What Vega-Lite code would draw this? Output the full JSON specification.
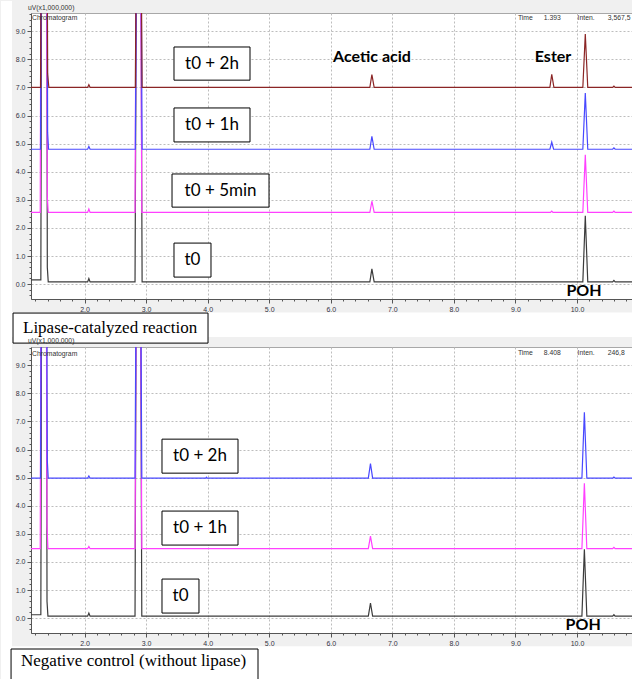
{
  "$schema": "https://vega.github.io/schema/vega-lite/v6.json",
  "background": "#f0f0f0",
  "padding": {"left": 0, "top": 0, "right": 0, "bottom": 0},
  "spacing": 48,
  "bounds": "flush",
  "resolve": {"scale": {"color": "independent"}},
  "config": {
    "view": {"fill": "white", "stroke": "#a8a8a8", "strokeWidth": 1},
    "axis": {"labelFont": "Liberation Sans", "labelFontSize": 7, "labelColor": "#333344", "domainColor": "#555555", "tickColor": "#555555", "labelPadding": 2, "grid": true, "gridColor": "#bdbdbd", "gridDash": [2, 2], "gridWidth": 1, "title": null,
      "tickSize": {"condition": {"test": "abs(datum.value - round(datum.value)) > 0.01", "value": 2}, "value": 4},
      "gridOpacity": {"condition": {"test": "abs(datum.value - round(datum.value)) > 0.01", "value": 0}, "value": 1},
      "labelExpr": "abs(datum.value - round(datum.value)) > 0.01 ? '' : format(datum.value, '.1f')"}
  },
  "datasets": {
    "topTraces": [
      {"s":"t0","t":1.13,"v":0.15},{"s":"t0","t":1.29,"v":0.15},{"s":"t0","t":1.305,"v":15},{"s":"t0","t":1.385,"v":15},{"s":"t0","t":1.395,"v":0.6},{"s":"t0","t":1.41,"v":0.08},{"s":"t0","t":2.05,"v":0.08},{"s":"t0","t":2.07,"v":0.2},{"s":"t0","t":2.09,"v":0.08},{"s":"t0","t":2.82,"v":0.08},{"s":"t0","t":2.85,"v":15},{"s":"t0","t":2.91,"v":15},{"s":"t0","t":2.935,"v":0.08},{"s":"t0","t":6.635,"v":0.08},{"s":"t0","t":6.668,"v":0.54},{"s":"t0","t":6.705,"v":0.08},{"s":"t0","t":10.095,"v":0.08},{"s":"t0","t":10.135,"v":2.43},{"s":"t0","t":10.175,"v":0.08},{"s":"t0","t":10.58,"v":0.08},{"s":"t0","t":10.6,"v":0.13},{"s":"t0","t":10.62,"v":0.08},{"s":"t0","t":10.91,"v":0.08},
      {"s":"t0 + 5min","t":1.13,"v":2.55},{"s":"t0 + 5min","t":1.28,"v":2.55},{"s":"t0 + 5min","t":1.295,"v":15},{"s":"t0 + 5min","t":1.38,"v":15},{"s":"t0 + 5min","t":1.395,"v":3.1},{"s":"t0 + 5min","t":1.41,"v":2.55},{"s":"t0 + 5min","t":2.05,"v":2.55},{"s":"t0 + 5min","t":2.07,"v":2.67},{"s":"t0 + 5min","t":2.09,"v":2.55},{"s":"t0 + 5min","t":2.82,"v":2.55},{"s":"t0 + 5min","t":2.845,"v":15},{"s":"t0 + 5min","t":2.905,"v":15},{"s":"t0 + 5min","t":2.93,"v":2.55},{"s":"t0 + 5min","t":6.635,"v":2.55},{"s":"t0 + 5min","t":6.668,"v":2.95},{"s":"t0 + 5min","t":6.705,"v":2.55},{"s":"t0 + 5min","t":9.57,"v":2.55},{"s":"t0 + 5min","t":9.59,"v":2.6},{"s":"t0 + 5min","t":9.61,"v":2.55},{"s":"t0 + 5min","t":10.095,"v":2.55},{"s":"t0 + 5min","t":10.135,"v":4.6},{"s":"t0 + 5min","t":10.175,"v":2.55},{"s":"t0 + 5min","t":10.58,"v":2.55},{"s":"t0 + 5min","t":10.6,"v":2.6},{"s":"t0 + 5min","t":10.62,"v":2.55},{"s":"t0 + 5min","t":10.91,"v":2.55},
      {"s":"t0 + 1h","t":1.13,"v":4.8},{"s":"t0 + 1h","t":1.285,"v":4.8},{"s":"t0 + 1h","t":1.3,"v":15},{"s":"t0 + 1h","t":1.39,"v":15},{"s":"t0 + 1h","t":1.4,"v":5.4},{"s":"t0 + 1h","t":1.415,"v":4.8},{"s":"t0 + 1h","t":2.05,"v":4.8},{"s":"t0 + 1h","t":2.07,"v":4.9},{"s":"t0 + 1h","t":2.09,"v":4.8},{"s":"t0 + 1h","t":2.825,"v":4.8},{"s":"t0 + 1h","t":2.85,"v":15},{"s":"t0 + 1h","t":2.91,"v":15},{"s":"t0 + 1h","t":2.935,"v":4.8},{"s":"t0 + 1h","t":6.635,"v":4.8},{"s":"t0 + 1h","t":6.668,"v":5.26},{"s":"t0 + 1h","t":6.705,"v":4.8},{"s":"t0 + 1h","t":9.56,"v":4.8},{"s":"t0 + 1h","t":9.59,"v":5.05},{"s":"t0 + 1h","t":9.62,"v":4.8},{"s":"t0 + 1h","t":10.095,"v":4.8},{"s":"t0 + 1h","t":10.135,"v":6.8},{"s":"t0 + 1h","t":10.175,"v":4.8},{"s":"t0 + 1h","t":10.58,"v":4.8},{"s":"t0 + 1h","t":10.6,"v":4.85},{"s":"t0 + 1h","t":10.62,"v":4.8},{"s":"t0 + 1h","t":10.91,"v":4.8},
      {"s":"t0 + 2h","t":1.13,"v":7.0},{"s":"t0 + 2h","t":1.285,"v":7.0},{"s":"t0 + 2h","t":1.3,"v":15},{"s":"t0 + 2h","t":1.39,"v":15},{"s":"t0 + 2h","t":1.4,"v":7.5},{"s":"t0 + 2h","t":1.42,"v":7.0},{"s":"t0 + 2h","t":2.05,"v":7.0},{"s":"t0 + 2h","t":2.07,"v":7.1},{"s":"t0 + 2h","t":2.09,"v":7.0},{"s":"t0 + 2h","t":2.825,"v":7.0},{"s":"t0 + 2h","t":2.85,"v":15},{"s":"t0 + 2h","t":2.91,"v":15},{"s":"t0 + 2h","t":2.935,"v":7.0},{"s":"t0 + 2h","t":6.635,"v":7.0},{"s":"t0 + 2h","t":6.668,"v":7.46},{"s":"t0 + 2h","t":6.705,"v":7.0},{"s":"t0 + 2h","t":9.56,"v":7.0},{"s":"t0 + 2h","t":9.59,"v":7.47},{"s":"t0 + 2h","t":9.625,"v":7.0},{"s":"t0 + 2h","t":10.095,"v":7.0},{"s":"t0 + 2h","t":10.135,"v":8.9},{"s":"t0 + 2h","t":10.175,"v":7.0},{"s":"t0 + 2h","t":10.58,"v":7.0},{"s":"t0 + 2h","t":10.6,"v":7.05},{"s":"t0 + 2h","t":10.62,"v":7.0},{"s":"t0 + 2h","t":10.91,"v":7.0}
    ],
    "bottomTraces": [
      {"s":"t0","t":1.13,"v":0.12},{"s":"t0","t":1.29,"v":0.12},{"s":"t0","t":1.305,"v":15},{"s":"t0","t":1.38,"v":15},{"s":"t0","t":1.39,"v":0.6},{"s":"t0","t":1.405,"v":0.07},{"s":"t0","t":2.05,"v":0.07},{"s":"t0","t":2.07,"v":0.18},{"s":"t0","t":2.09,"v":0.07},{"s":"t0","t":2.82,"v":0.07},{"s":"t0","t":2.845,"v":15},{"s":"t0","t":2.905,"v":15},{"s":"t0","t":2.93,"v":0.07},{"s":"t0","t":6.61,"v":0.07},{"s":"t0","t":6.645,"v":0.53},{"s":"t0","t":6.68,"v":0.07},{"s":"t0","t":10.08,"v":0.07},{"s":"t0","t":10.12,"v":2.45},{"s":"t0","t":10.16,"v":0.07},{"s":"t0","t":10.58,"v":0.07},{"s":"t0","t":10.6,"v":0.12},{"s":"t0","t":10.62,"v":0.07},{"s":"t0","t":10.91,"v":0.07},
      {"s":"t0 + 1h","t":1.13,"v":2.47},{"s":"t0 + 1h","t":1.28,"v":2.47},{"s":"t0 + 1h","t":1.295,"v":15},{"s":"t0 + 1h","t":1.375,"v":15},{"s":"t0 + 1h","t":1.39,"v":3.3},{"s":"t0 + 1h","t":1.405,"v":2.47},{"s":"t0 + 1h","t":2.05,"v":2.47},{"s":"t0 + 1h","t":2.07,"v":2.55},{"s":"t0 + 1h","t":2.09,"v":2.47},{"s":"t0 + 1h","t":2.82,"v":2.47},{"s":"t0 + 1h","t":2.845,"v":15},{"s":"t0 + 1h","t":2.905,"v":15},{"s":"t0 + 1h","t":2.93,"v":2.47},{"s":"t0 + 1h","t":6.61,"v":2.47},{"s":"t0 + 1h","t":6.645,"v":2.92},{"s":"t0 + 1h","t":6.68,"v":2.47},{"s":"t0 + 1h","t":10.08,"v":2.47},{"s":"t0 + 1h","t":10.12,"v":4.8},{"s":"t0 + 1h","t":10.16,"v":2.47},{"s":"t0 + 1h","t":10.58,"v":2.47},{"s":"t0 + 1h","t":10.6,"v":2.52},{"s":"t0 + 1h","t":10.62,"v":2.47},{"s":"t0 + 1h","t":10.91,"v":2.47},
      {"s":"t0 + 2h","t":1.13,"v":4.98},{"s":"t0 + 2h","t":1.285,"v":4.98},{"s":"t0 + 2h","t":1.3,"v":15},{"s":"t0 + 2h","t":1.385,"v":15},{"s":"t0 + 2h","t":1.39,"v":8.15},{"s":"t0 + 2h","t":1.395,"v":5.6},{"s":"t0 + 2h","t":1.41,"v":4.98},{"s":"t0 + 2h","t":2.05,"v":4.98},{"s":"t0 + 2h","t":2.07,"v":5.06},{"s":"t0 + 2h","t":2.09,"v":4.98},{"s":"t0 + 2h","t":2.82,"v":4.98},{"s":"t0 + 2h","t":2.845,"v":15},{"s":"t0 + 2h","t":2.905,"v":15},{"s":"t0 + 2h","t":2.93,"v":4.98},{"s":"t0 + 2h","t":3.97,"v":4.98},{"s":"t0 + 2h","t":3.98,"v":5.01},{"s":"t0 + 2h","t":3.99,"v":4.98},{"s":"t0 + 2h","t":6.61,"v":4.98},{"s":"t0 + 2h","t":6.645,"v":5.5},{"s":"t0 + 2h","t":6.68,"v":4.98},{"s":"t0 + 2h","t":10.08,"v":4.98},{"s":"t0 + 2h","t":10.12,"v":7.33},{"s":"t0 + 2h","t":10.16,"v":4.98},{"s":"t0 + 2h","t":10.58,"v":4.98},{"s":"t0 + 2h","t":10.6,"v":5.02},{"s":"t0 + 2h","t":10.62,"v":4.98},{"s":"t0 + 2h","t":10.91,"v":4.98}
    ],
    "topMargins": [
      {"t":0.6426,"t2":0.8213,"v":10.077,"v2":-1.884},
      {"t":0.6426,"t2":11.6,"v":-1.012,"v2":-1.884}
    ],
    "bottomMargins": [
      {"t":0.6426,"t2":0.8213,"v":10.006,"v2":-2.56},
      {"t":0.6426,"t2":11.6,"v":-1.0,"v2":-2.56}
    ],
    "topBoxes": [
      {"t":3.453,"t2":4.688,"v":8.44,"v2":7.26},
      {"t":3.453,"t2":4.688,"v":6.27,"v2":5.06},
      {"t":3.421,"t2":4.997,"v":3.92,"v2":2.74},
      {"t":3.453,"t2":4.054,"v":1.46,"v2":0.25}
    ],
    "topBoxLabels": [
      {"t":4.07,"v":7.85,"label":"t0 + 2h"},
      {"t":4.07,"v":5.66,"label":"t0 + 1h"},
      {"t":4.21,"v":3.33,"label":"t0 + 5min"},
      {"t":3.753,"v":0.86,"label":"t0"}
    ],
    "topCaptionBox": [{"t":0.838,"t2":4.006,"v":-1.03,"v2":-2.1}],
    "topCaption": [{"t":1.0,"v":-1.56,"label":"Lipase-catalyzed reaction"}],
    "topPeaks": [
      {"t":6.67,"v":8.08,"label":"Acetic acid"},
      {"t":9.611,"v":8.08,"label":"Ester"},
      {"t":10.114,"v":-0.25,"label":"POH"}
    ],
    "topSmall": [
      {"t":1.08,"v":9.83,"label":"uV(x1,000,000)"},
      {"t":1.146,"v":9.47,"label":"Chromatogram"},
      {"t":9.04,"v":9.47,"label":"Time"},
      {"t":9.46,"v":9.47,"label":"1.393"},
      {"t":10.01,"v":9.47,"label":"Inten."},
      {"t":10.5,"v":9.47,"label":"3,567,5"}
    ],
    "bottomBoxes": [
      {"t":3.258,"t2":4.493,"v":6.37,"v2":5.16},
      {"t":3.258,"t2":4.493,"v":3.81,"v2":2.6},
      {"t":3.258,"t2":3.859,"v":1.39,"v2":0.18}
    ],
    "bottomBoxLabels": [
      {"t":3.876,"v":5.76,"label":"t0 + 2h"},
      {"t":3.876,"v":3.2,"label":"t0 + 1h"},
      {"t":3.56,"v":0.78,"label":"t0"}
    ],
    "bottomCaptionBox": [{"t":0.806,"t2":4.818,"v":-1.1,"v2":-2.6}],
    "bottomCaption": [{"t":0.968,"v":-1.53,"label":"Negative control (without lipase)"}],
    "bottomPeaks": [
      {"t":10.1,"v":-0.25,"label":"POH"}
    ],
    "bottomSmall": [
      {"t":1.08,"v":9.86,"label":"uV(x1,000,000)"},
      {"t":1.146,"v":9.4,"label":"Chromatogram"},
      {"t":9.04,"v":9.44,"label":"Time"},
      {"t":9.46,"v":9.44,"label":"8.408"},
      {"t":10.01,"v":9.44,"label":"Inten."},
      {"t":10.5,"v":9.44,"label":"246,8"}
    ]
  },
  "vconcat": [
    {
      "width": 602,
      "height": 286,
      "encoding": {
        "x": {"field": "t", "type": "quantitative", "scale": {"domain": [1.13, 10.91], "nice": false, "zero": false}, "axis": {"values": [1.2,1.4,1.6,1.8,2,2.2,2.4,2.6,2.8,3,3.2,3.4,3.6,3.8,4,4.2,4.4,4.6,4.8,5,5.2,5.4,5.6,5.8,6,6.2,6.4,6.6,6.8,7,7.2,7.4,7.6,7.8,8,8.2,8.4,8.6,8.8,9,9.2,9.4,9.6,9.8,10,10.2,10.4,10.6,10.8], "labelFlush": false}},
        "y": {"field": "v", "type": "quantitative", "scale": {"domain": [-0.53, 9.65], "nice": false, "zero": false}, "axis": {"values": [-0.4,-0.2,0,0.2,0.4,0.6,0.8,1,1.2,1.4,1.6,1.8,2,2.2,2.4,2.6,2.8,3,3.2,3.4,3.6,3.8,4,4.2,4.4,4.6,4.8,5,5.2,5.4,5.6,5.8,6,6.2,6.4,6.6,6.8,7,7.2,7.4,7.6,7.8,8,8.2,8.4,8.6,8.8,9,9.2,9.4,9.6]}}
      },
      "layer": [
        {
          "data": {"name": "topMargins"},
          "mark": {"type": "rect", "fill": "white"},
          "encoding": {"x2": {"field": "t2"}, "y2": {"field": "v2"}}
        },
        {
          "data": {"name": "topTraces"},
          "mark": {"type": "line", "clip": true, "strokeWidth": 1.2},
          "encoding": {
            "color": {"field": "s", "type": "nominal", "scale": {"domain": ["t0", "t0 + 5min", "t0 + 1h", "t0 + 2h"], "range": ["#3c3c3c", "#ff40ff", "#4848ff", "#8b2525"]}, "legend": null}
          }
        },
        {
          "data": {"name": "topBoxes"},
          "mark": {"type": "rect", "fill": "white", "stroke": "black", "strokeWidth": 1},
          "encoding": {"x2": {"field": "t2"}, "y2": {"field": "v2"}}
        },
        {
          "data": {"name": "topBoxLabels"},
          "mark": {"type": "text", "font": "Lato", "fontSize": 17, "color": "black", "align": "center", "baseline": "middle"},
          "encoding": {"text": {"field": "label"}}
        },
        {
          "data": {"name": "topCaptionBox"},
          "mark": {"type": "rect", "fill": "white", "stroke": "black", "strokeWidth": 1},
          "encoding": {"x2": {"field": "t2"}, "y2": {"field": "v2"}}
        },
        {
          "data": {"name": "topCaption"},
          "mark": {"type": "text", "font": "Liberation Serif", "fontSize": 17, "color": "black", "align": "left", "baseline": "middle"},
          "encoding": {"text": {"field": "label"}}
        },
        {
          "data": {"name": "topPeaks"},
          "mark": {"type": "text", "font": "Lato", "fontSize": 16, "fontWeight": "bold", "color": "black", "align": "center", "baseline": "middle"},
          "encoding": {"text": {"field": "label"}}
        },
        {
          "data": {"name": "topSmall"},
          "mark": {"type": "text", "font": "Liberation Sans", "fontSize": 6.8, "color": "#333333", "align": "left", "baseline": "middle"},
          "encoding": {"text": {"field": "label"}}
        }
      ]
    },
    {
      "width": 602,
      "height": 286,
      "encoding": {
        "x": {"field": "t", "type": "quantitative", "scale": {"domain": [1.13, 10.91], "nice": false, "zero": false}, "axis": {"values": [1.2,1.4,1.6,1.8,2,2.2,2.4,2.6,2.8,3,3.2,3.4,3.6,3.8,4,4.2,4.4,4.6,4.8,5,5.2,5.4,5.6,5.8,6,6.2,6.4,6.6,6.8,7,7.2,7.4,7.6,7.8,8,8.2,8.4,8.6,8.8,9,9.2,9.4,9.6,9.8,10,10.2,10.4,10.6,10.8], "labelFlush": false}},
        "y": {"field": "v", "type": "quantitative", "scale": {"domain": [-0.53, 9.65], "nice": false, "zero": false}, "axis": {"values": [-0.4,-0.2,0,0.2,0.4,0.6,0.8,1,1.2,1.4,1.6,1.8,2,2.2,2.4,2.6,2.8,3,3.2,3.4,3.6,3.8,4,4.2,4.4,4.6,4.8,5,5.2,5.4,5.6,5.8,6,6.2,6.4,6.6,6.8,7,7.2,7.4,7.6,7.8,8,8.2,8.4,8.6,8.8,9,9.2,9.4,9.6]}}
      },
      "layer": [
        {
          "data": {"name": "bottomMargins"},
          "mark": {"type": "rect", "fill": "white"},
          "encoding": {"x2": {"field": "t2"}, "y2": {"field": "v2"}}
        },
        {
          "data": {"name": "bottomTraces"},
          "mark": {"type": "line", "clip": true, "strokeWidth": 1.2},
          "encoding": {
            "color": {"field": "s", "type": "nominal", "scale": {"domain": ["t0", "t0 + 1h", "t0 + 2h"], "range": ["#3c3c3c", "#ff40ff", "#4848ff"]}, "legend": null}
          }
        },
        {
          "data": {"name": "bottomBoxes"},
          "mark": {"type": "rect", "fill": "white", "stroke": "black", "strokeWidth": 1},
          "encoding": {"x2": {"field": "t2"}, "y2": {"field": "v2"}}
        },
        {
          "data": {"name": "bottomBoxLabels"},
          "mark": {"type": "text", "font": "Lato", "fontSize": 17, "color": "black", "align": "center", "baseline": "middle"},
          "encoding": {"text": {"field": "label"}}
        },
        {
          "data": {"name": "bottomCaptionBox"},
          "mark": {"type": "rect", "fill": "white", "stroke": "black", "strokeWidth": 1},
          "encoding": {"x2": {"field": "t2"}, "y2": {"field": "v2"}}
        },
        {
          "data": {"name": "bottomCaption"},
          "mark": {"type": "text", "font": "Liberation Serif", "fontSize": 17, "color": "black", "align": "left", "baseline": "middle"},
          "encoding": {"text": {"field": "label"}}
        },
        {
          "data": {"name": "bottomPeaks"},
          "mark": {"type": "text", "font": "Lato", "fontSize": 16, "fontWeight": "bold", "color": "black", "align": "center", "baseline": "middle"},
          "encoding": {"text": {"field": "label"}}
        },
        {
          "data": {"name": "bottomSmall"},
          "mark": {"type": "text", "font": "Liberation Sans", "fontSize": 6.8, "color": "#333333", "align": "left", "baseline": "middle"},
          "encoding": {"text": {"field": "label"}}
        }
      ]
    }
  ]
}
